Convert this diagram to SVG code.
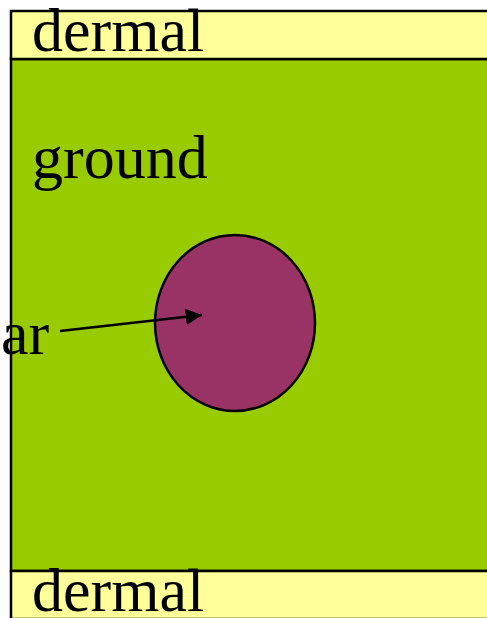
<svg xmlns="http://www.w3.org/2000/svg" width="487" height="618" viewBox="0 0 487 618">
<style>
.band{fill:#FFFF99;stroke:#000;stroke-width:2.5}
.tissue{fill:#99CC00;stroke:#000;stroke-width:2.5}
.vasc{fill:#993366;stroke:#000;stroke-width:2.5}
.lbl{font-family:"Liberation Serif","Times New Roman",serif;font-size:62px;fill:#000}
.conn{stroke:#000;stroke-width:2.5;fill:none}
</style>
<defs>
<marker id="ah" viewBox="0 0 10 10" refX="10" refY="5" markerWidth="6.5" markerHeight="6.5" markerUnits="strokeWidth" orient="auto">
<path d="M0,0 L10,5 L0,10 z" fill="#000"/>
</marker>
</defs>
<g id="ground">
<rect class="tissue" x="11" y="59" width="490" height="512"/>
<text class="lbl" x="32" y="178">ground</text>
</g>
<g id="dermal-top">
<rect class="band" x="11" y="11" width="490" height="48"/>
<text class="lbl" x="32" y="51">dermal</text>
</g>
<g id="dermal-bottom">
<rect class="band" x="11" y="571" width="490" height="48"/>
<text class="lbl" x="32" y="611">dermal</text>
</g>
<g id="vascular">
<ellipse class="vasc" cx="235" cy="323" rx="80" ry="88"/>
</g>
<g id="label-ar">
<text class="lbl" x="1" y="354">ar</text>
</g>
<g id="connectors">
<line class="conn" x1="60" y1="331" x2="202" y2="315" marker-end="url(#ah)"/>
</g>
</svg>
